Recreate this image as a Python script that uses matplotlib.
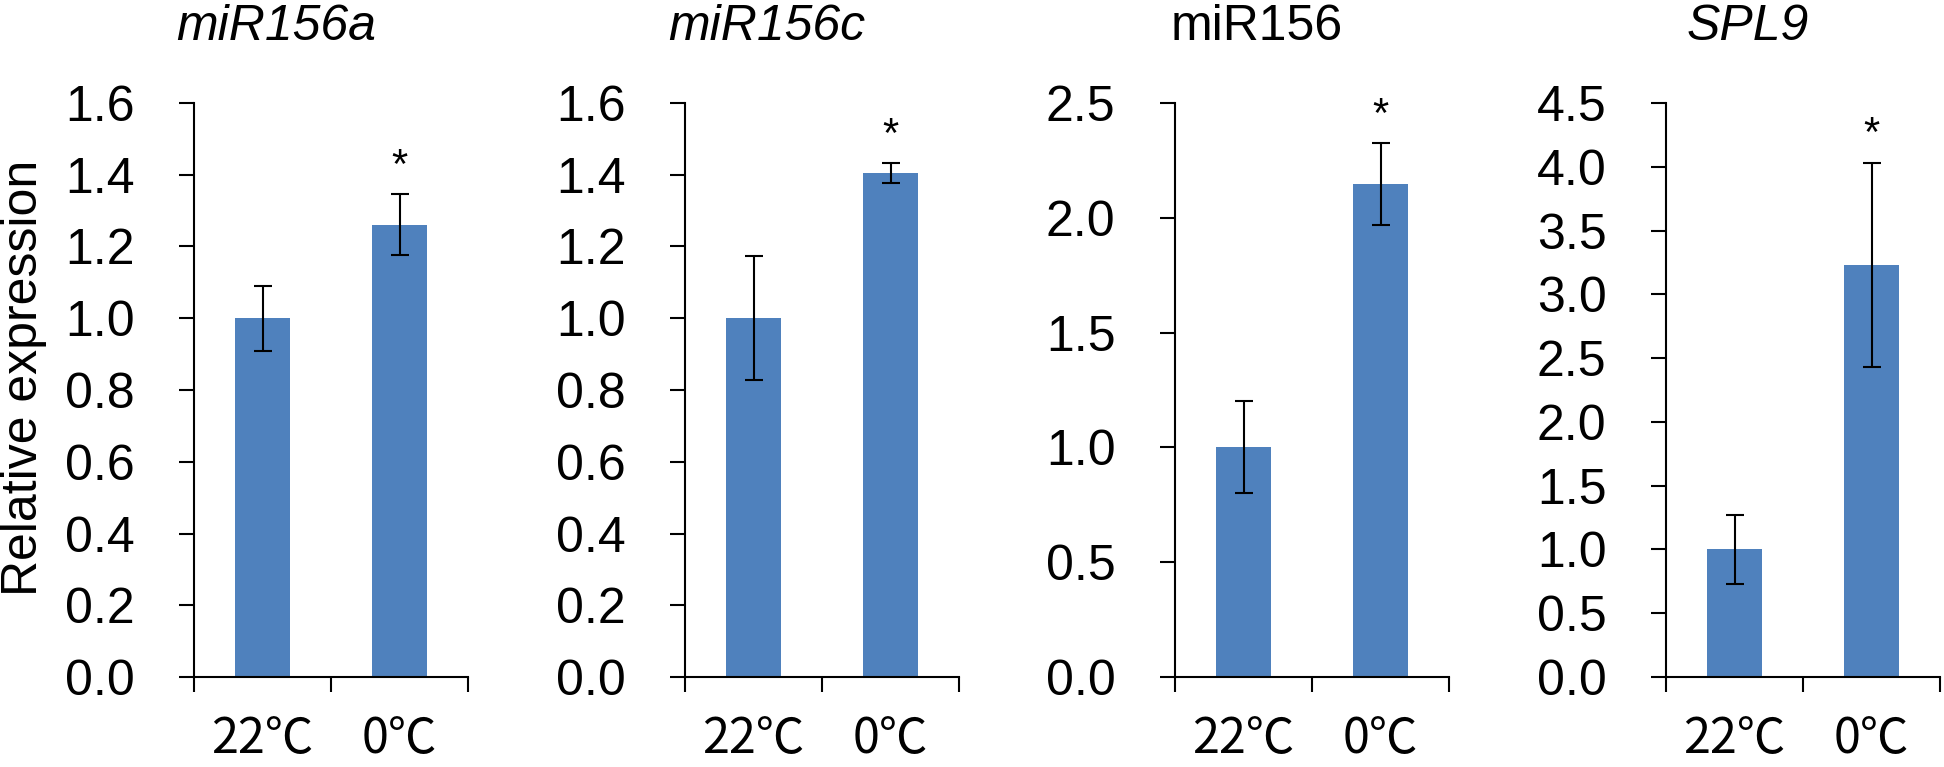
import numpy as np
import matplotlib
matplotlib.use("Agg")
import matplotlib.pyplot as plt
from matplotlib.ticker import MultipleLocator, FormatStrFormatter

plt.rcParams['font.family'] = ['Liberation Sans', 'Noto Sans CJK SC', 'DejaVu Sans']

# data
genes = ['miR156a', 'miR156c', 'miR156', 'SPL9']
italic_title = [True, True, False, True]
conditions = ['22℃', '0℃']
means = [[1.0, 1.26], [1.0, 1.405], [1.0, 2.147], [1.0, 3.23]]
errs = [[0.09, 0.085], [0.173, 0.027], [0.2, 0.178], [0.27, 0.80]]
signif = [[False, True], [False, True], [False, True], [False, True]]
ymax = [1.6, 1.6, 2.5, 4.5]
ystep = [0.2, 0.2, 0.5, 0.5]

bar_color = '#4F81BD'
W, H = 1944, 767
fig = plt.figure(figsize=(W / 100, H / 100), dpi=100)

# axes layout in pixels (left edge of each y spine)
lefts_px = [194, 685, 1175, 1666]
ax_w, ax_top, ax_bot = 274, 103, 677

for i, gene in enumerate(genes):
    ax = fig.add_axes([lefts_px[i] / W, (H - ax_bot) / H, ax_w / W, (ax_bot - ax_top) / H])
    x = np.arange(len(conditions))
    ax.bar(x, means[i], width=0.4, color=bar_color, edgecolor='none', zorder=2)
    ax.errorbar(x, means[i], yerr=errs[i], fmt='none', ecolor='black',
                elinewidth=1.5, capsize=6.5, capthick=1.5, zorder=3)
    for j in range(len(conditions)):
        if signif[i][j]:
            ax.annotate('*', (x[j], means[i][j] + errs[i][j]), xytext=(0, 12),
                        textcoords='offset points', ha='center', va='baseline',
                        fontsize=30)

    ax.set_xlim(-0.5, 1.5)
    ax.set_ylim(0, ymax[i])
    ax.yaxis.set_major_locator(MultipleLocator(ystep[i]))
    ax.yaxis.set_major_formatter(FormatStrFormatter('%.1f'))

    ax.set_xticks(x)
    ax.set_xticklabels(conditions)
    for lbl in ax.get_xticklabels():
        lbl.set_fontfamily(['Noto Sans CJK JP', 'DejaVu Sans'])
    ax.set_xticks([-0.5, 0.5, 1.5], minor=True)
    ax.tick_params(axis='x', which='major', length=0, pad=27, labelsize=35)
    ax.tick_params(axis='x', which='minor', length=10.8, width=1.5, direction='out')
    ax.tick_params(axis='y', length=10.8, width=1.5, direction='out', pad=32, labelsize=36)

    for s in ['top', 'right']:
        ax.spines[s].set_visible(False)
    for s in ['left', 'bottom']:
        ax.spines[s].set_linewidth(1.5)
        ax.spines[s].set_color('black')

    ax.text(0.30, 1 + (ax_top - 27) / (ax_bot - ax_top), gene, transform=ax.transAxes,
            ha='center', va='center', fontsize=36,
            style='italic' if italic_title[i] else 'normal')

fig.text(24 / W, 1 - 378 / H, 'Relative expression', rotation=90,
         ha='center', va='center', fontsize=36)

fig.savefig('out.png', dpi=100)
